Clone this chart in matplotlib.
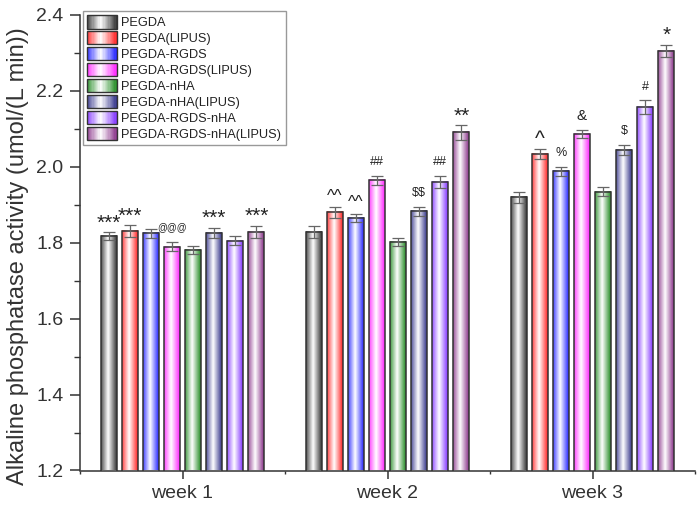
import numpy as np
import matplotlib
matplotlib.use("Agg")
import matplotlib.pyplot as plt
from matplotlib.legend_handler import HandlerBase
from matplotlib.patches import Rectangle, Patch
from matplotlib.colors import to_rgb
from matplotlib.ticker import MultipleLocator, FixedLocator

plt.rcParams['font.family'] = ['Liberation Sans', 'DejaVu Sans']

# ---------------- data ----------------
weeks = ["week 1", "week 2", "week 3"]
series = ["PEGDA", "PEGDA(LIPUS)", "PEGDA-RGDS", "PEGDA-RGDS(LIPUS)",
          "PEGDA-nHA", "PEGDA-nHA(LIPUS)", "PEGDA-RGDS-nHA", "PEGDA-RGDS-nHA(LIPUS)"]
colors = ["#303030", "#FF2020", "#2020FF", "#FF20FF",
          "#208A20", "#303088", "#8030FF", "#883088"]

# values[series][week]
pegda            = [1.817, 1.829, 1.920]
pegda_lipus      = [1.831, 1.880, 2.034]
rgds             = [1.825, 1.866, 1.988]
rgds_lipus       = [1.790, 1.965, 2.087]
nha              = [1.781, 1.802, 1.935]
nha_lipus        = [1.826, 1.883, 2.044]
rgds_nha         = [1.805, 1.960, 2.157]
rgds_nha_lipus   = [1.829, 2.091, 2.306]
values = [pegda, pegda_lipus, rgds, rgds_lipus, nha, nha_lipus, rgds_nha, rgds_nha_lipus]

err_pegda          = [0.011, 0.016, 0.014]
err_pegda_lipus    = [0.015, 0.014, 0.013]
err_rgds           = [0.012, 0.011, 0.012]
err_rgds_lipus     = [0.012, 0.012, 0.011]
err_nha            = [0.011, 0.011, 0.011]
err_nha_lipus      = [0.014, 0.012, 0.014]
err_rgds_nha       = [0.012, 0.016, 0.018]
err_rgds_nha_lipus = [0.016, 0.019, 0.016]
errors = [err_pegda, err_pegda_lipus, err_rgds, err_rgds_lipus, err_nha,
          err_nha_lipus, err_rgds_nha, err_rgds_nha_lipus]

# significance marks [series][week]
marks = [
    ["***", "",   ""],
    ["***", "^^", "^"],
    ["",    "^^", "%"],
    ["@@@", "##", "&"],
    ["",    "",   ""],
    ["***", "$$", "$"],
    ["",    "##", "#"],
    ["***", "**", "*"],
]

y_min, y_max = 1.2, 2.4

# ---------------- figure ----------------
fig = plt.figure(figsize=(7.0, 5.05), dpi=100)
ax = fig.add_axes([80/700, 1 - 470.5/505, 615/700, (470.5 - 15)/505])

x = np.arange(1, len(weeks) + 1)
step = 0.103
width = 0.078
n = len(series)


def blend(col, t):
    c = np.array(to_rgb(col))
    cc = 0.45
    if t < cc:
        a = 0.85 * ((cc - t) / cc) ** 1.0
    else:
        a = 1.0 * ((t - cc) / (1 - cc)) ** 1.0
    return tuple(1 - a * (1 - c))


grad_n = 40
grad_t = (np.arange(grad_n) + 0.5) / grad_n

for i in range(n):
    pos = x + (i - (n - 1) / 2) * step
    bars = ax.bar(pos, values[i], width=width, facecolor='none',
                  edgecolor='#333333', linewidth=1.1, zorder=3)
    img = np.array([[blend(colors[i], t) for t in grad_t]])
    for p in bars.patches:
        x0 = p.get_x()
        ax.imshow(img, extent=[x0, x0 + p.get_width(), y_min, p.get_y() + p.get_height()],
                  aspect='auto', interpolation='bilinear', zorder=2)
    ax.errorbar(pos, values[i], yerr=errors[i], fmt='none', ecolor='#666666',
                elinewidth=0.9, capsize=4.5, capthick=0.9, zorder=4)

# significance annotations
mark_style = {'*': (15, 0.55), '^': (12, 0.52), '#': (9, 0.36), '$': (9, 0.36),
              '@': (7, 0.30), '%': (9, 0.36), '&': (11, 0.36)}
for i in range(n):
    pos = x + (i - (n - 1) / 2) * step
    for j in range(len(weeks)):
        m = marks[i][j]
        if not m:
            continue
        fs, cen = mark_style[m[0]]
        if m == "^":
            fs = 15
        gap_px = 15
        off_pt = gap_px * 0.72 - cen * fs
        ax.annotate(m, (pos[j], values[i][j] + errors[i][j]), xytext=(0, off_pt),
                    textcoords='offset points', ha='center', va='baseline',
                    fontsize=fs, color='#222222', zorder=5, parse_math=False)

ax.set_xlim(0.5, 3.5)
ax.set_ylim(y_min, y_max)
ax.set_xticks(x)
ax.set_xticklabels(weeks)
ax.xaxis.set_minor_locator(FixedLocator([0.5, 1.5, 2.5, 3.5]))
ax.yaxis.set_major_locator(MultipleLocator(0.2))
ax.yaxis.set_minor_locator(MultipleLocator(0.1))
ax.yaxis.set_major_formatter(plt.FormatStrFormatter('%.1f'))

for s in ['top', 'right']:
    ax.spines[s].set_visible(False)
for s in ['left', 'bottom']:
    ax.spines[s].set_linewidth(1.1)
    ax.spines[s].set_color('#333333')

ax.tick_params(axis='y', which='major', direction='out', length=7, width=1.1,
               labelsize=14, pad=5, colors='#333333')
ax.tick_params(axis='y', which='minor', direction='out', length=4, width=1.0, colors='#333333')
ax.tick_params(axis='x', which='major', direction='out', length=5.5, width=1.1,
               labelsize=14, pad=5, colors='#333333')
ax.tick_params(axis='x', which='minor', direction='out', length=2.5, width=1.0, colors='#333333')
for lab in ax.get_xticklabels() + ax.get_yticklabels():
    lab.set_color('#333333')

ax.set_ylabel("Alkaline phosphatase activity (umol/(L min))", fontsize=17,
              color='#333333')
ax.yaxis.set_label_coords(-0.083, 0.47)


# ---------------- legend ----------------
class GradHandler(HandlerBase):
    def __init__(self, color):
        super().__init__()
        self.color = color

    def create_artists(self, legend, orig_handle, xdescent, ydescent, width, height,
                       fontsize, trans):
        arts = []
        k = 24
        for q in range(k):
            t = (q + 0.5) / k
            r = Rectangle((-xdescent + q * width / k, -ydescent), width / k, height,
                          facecolor=blend(self.color, t), edgecolor='none',
                          transform=trans)
            arts.append(r)
        arts.append(Rectangle((-xdescent, -ydescent), width, height, facecolor='none',
                              edgecolor='#333333', linewidth=1.0, transform=trans))
        return arts


handles = [Patch(label=s) for s in series]
hmap = {h: GradHandler(c) for h, c in zip(handles, colors)}
leg = ax.legend(handles=handles, labels=series, handler_map=hmap,
                loc='upper left', bbox_to_anchor=(83/700, 1 - 11/505),
                bbox_transform=fig.transFigure, borderaxespad=0,
                fontsize=9.2, handlelength=2.3, handleheight=1.2, labelspacing=0.16,
                handletextpad=0.35, borderpad=0.35, fancybox=False, framealpha=1,
                edgecolor='#999999')
leg.get_frame().set_linewidth(1.0)
for t in leg.get_texts():
    t.set_color('#222222')

fig.savefig("out.png", dpi=100)
